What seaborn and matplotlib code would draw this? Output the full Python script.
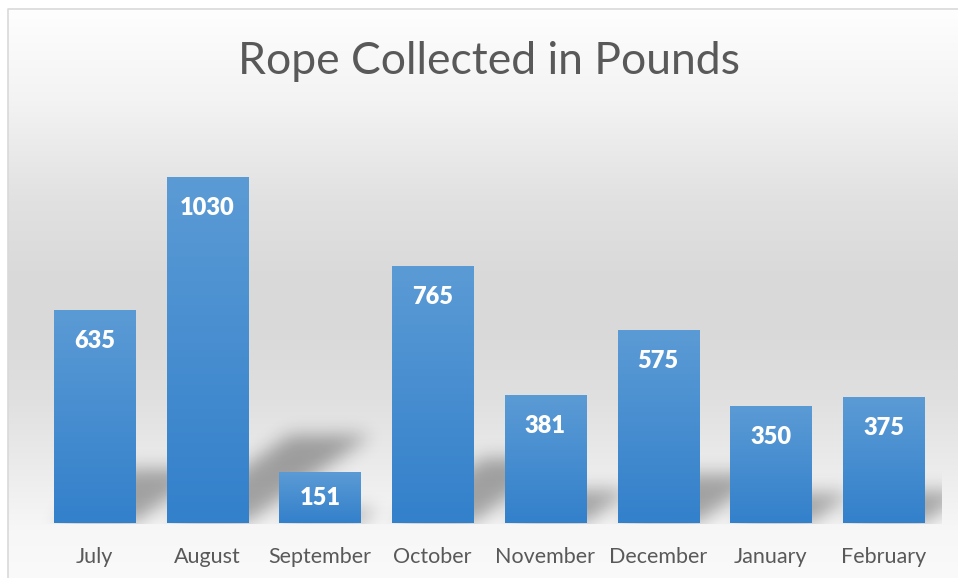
import numpy as np
import matplotlib
matplotlib.use('Agg')
import matplotlib.pyplot as plt
import seaborn as sns
from matplotlib.path import Path
from matplotlib.colors import LinearSegmentedColormap

# data
months = ['July', 'August', 'September', 'October', 'November', 'December', 'January', 'February']
rope_lbs = [635, 1030, 151, 765, 381, 575, 350, 375]

W, H, DPI = 958, 578, 100

sns.set_theme(style='white')
plt.rcParams['font.family'] = ['Lato', 'DejaVu Sans']

fig = plt.figure(figsize=(W / DPI, H / DPI), dpi=DPI)
fig.patch.set_facecolor('white')

# background: vertical grey gradient of the chart area
bg = fig.add_axes([0, 0, 1, 1], zorder=0)
bg.set_xlim(0, W)
bg.set_ylim(0, H)
bg.axis('off')
stop_y = [0, 10, 100, 200, 280, 330, 400, 470, 530, 578]
stop_g = [255, 254, 243, 225, 217, 217, 224, 236, 247, 250]
col = np.interp(np.arange(H), stop_y, stop_g) / 255.0
grad = np.repeat(col[:, None], W, axis=1)
grad[:9, :] = 1.0
grad[:, :8] = 1.0
bg.imshow(np.dstack([grad, grad, grad]), extent=(0, W, 0, H), origin='upper', aspect='auto', zorder=0)
bg.plot([8, 8, W + 5], [-5, H - 9, H - 9], color='#d9d9d9', lw=1.2, zorder=1)

# main axes
ax = fig.add_axes([38.14 / W, 55 / H, (939.9 - 38.14) / W, 402.6 / H], zorder=2)
ax.patch.set_alpha(0)
sns.barplot(x=months, y=rope_lbs, ax=ax, width=0.72, color='#5b9bd5', saturation=1, linewidth=0)
ax.set_xlim(-0.5, len(months) - 0.5)
ax.set_ylim(0, 1200)

bar_cmap = LinearSegmentedColormap.from_list('bar', ['#3380cb', '#5b9bd5'])
bars = list(ax.patches)
for p in bars:
    p.set_edgecolor('none')
    x, w, h = p.get_x(), p.get_width(), p.get_height()
    g = np.linspace(1, 0, 100)[:, None]
    im = ax.imshow(g, extent=(x, x + w, 0, h), cmap=bar_cmap, vmin=0, vmax=1,
                   aspect='auto', origin='upper', zorder=p.get_zorder() + 0.1)
    im.set_clip_path(p)
ax.set_xlim(-0.5, len(months) - 0.5)
ax.set_ylim(0, 1200)

# value labels inside the bar ends
for p, v in zip(bars, rope_lbs):
    cx = p.get_x() + p.get_width() / 2
    y0 = ax.transData.transform((cx, 0))[1]
    y1 = ax.transData.transform((cx, v))[1]
    off_px = min(31, (y1 - y0) / 2)
    ax.annotate(str(v), (cx, v), xytext=(0, -off_px * 72 / DPI), textcoords='offset points',
                ha='center', va='center', color='white', fontsize=17, fontweight='heavy', zorder=5)

ax.set_xticks(range(len(months)))
ax.set_xticklabels(months, color='#595959', fontsize=15.5)
ax.tick_params(axis='x', length=0, pad=17.5)
ax.set_yticks([])
ax.set_xlabel('')
ax.set_ylabel('')
for s in ax.spines.values():
    s.set_visible(False)

# soft perspective shadows behind the bars
rows, cols = np.mgrid[0:H, 0:W]
px = cols + 0.5
py = H - (rows + 0.5)
pts = np.column_stack([px.ravel(), py.ravel()])
mask = np.zeros(H * W)
base = ax.transData.transform((0, 0))[1]
for p in bars:
    x0, y0 = ax.transData.transform((p.get_x(), 0))
    x1, y1 = ax.transData.transform((p.get_x() + p.get_width(), p.get_height()))
    sh = 0.255 * (y1 - y0)
    dx = 1.4 * sh
    poly = Path([(x0, y0), (x1, y0), (x1 + dx, y0 + sh), (x0 + dx, y0 + sh), (x0, y0)])
    mask = np.maximum(mask, poly.contains_points(pts).astype(float))
mask = mask.reshape(H, W)
k = np.exp(-0.5 * (np.arange(-27, 28) / 9.0) ** 2)
k /= k.sum()
mask = np.apply_along_axis(lambda r: np.convolve(r, k, mode='same'), 1, mask)
mask = np.apply_along_axis(lambda c: np.convolve(c, k, mode='same'), 0, mask)
left = ax.transAxes.transform((0, 0))[0]
right = ax.transAxes.transform((1, 0))[0]
mask[(px < left) | (px > right + 2) | (py < base - 1)] = 0
shadow = np.zeros((H, W, 4))
shadow[..., 3] = 0.33 * mask
bg.imshow(shadow, extent=(0, W, 0, H), origin='upper', aspect='auto', zorder=2)
bg.set_xlim(0, W)
bg.set_ylim(0, H)

fig.text(489 / W, 1 - 62 / H, 'Rope Collected in Pounds', ha='center', va='center',
         fontsize=32, color='#595959')

fig.savefig('out.png', dpi=DPI)
